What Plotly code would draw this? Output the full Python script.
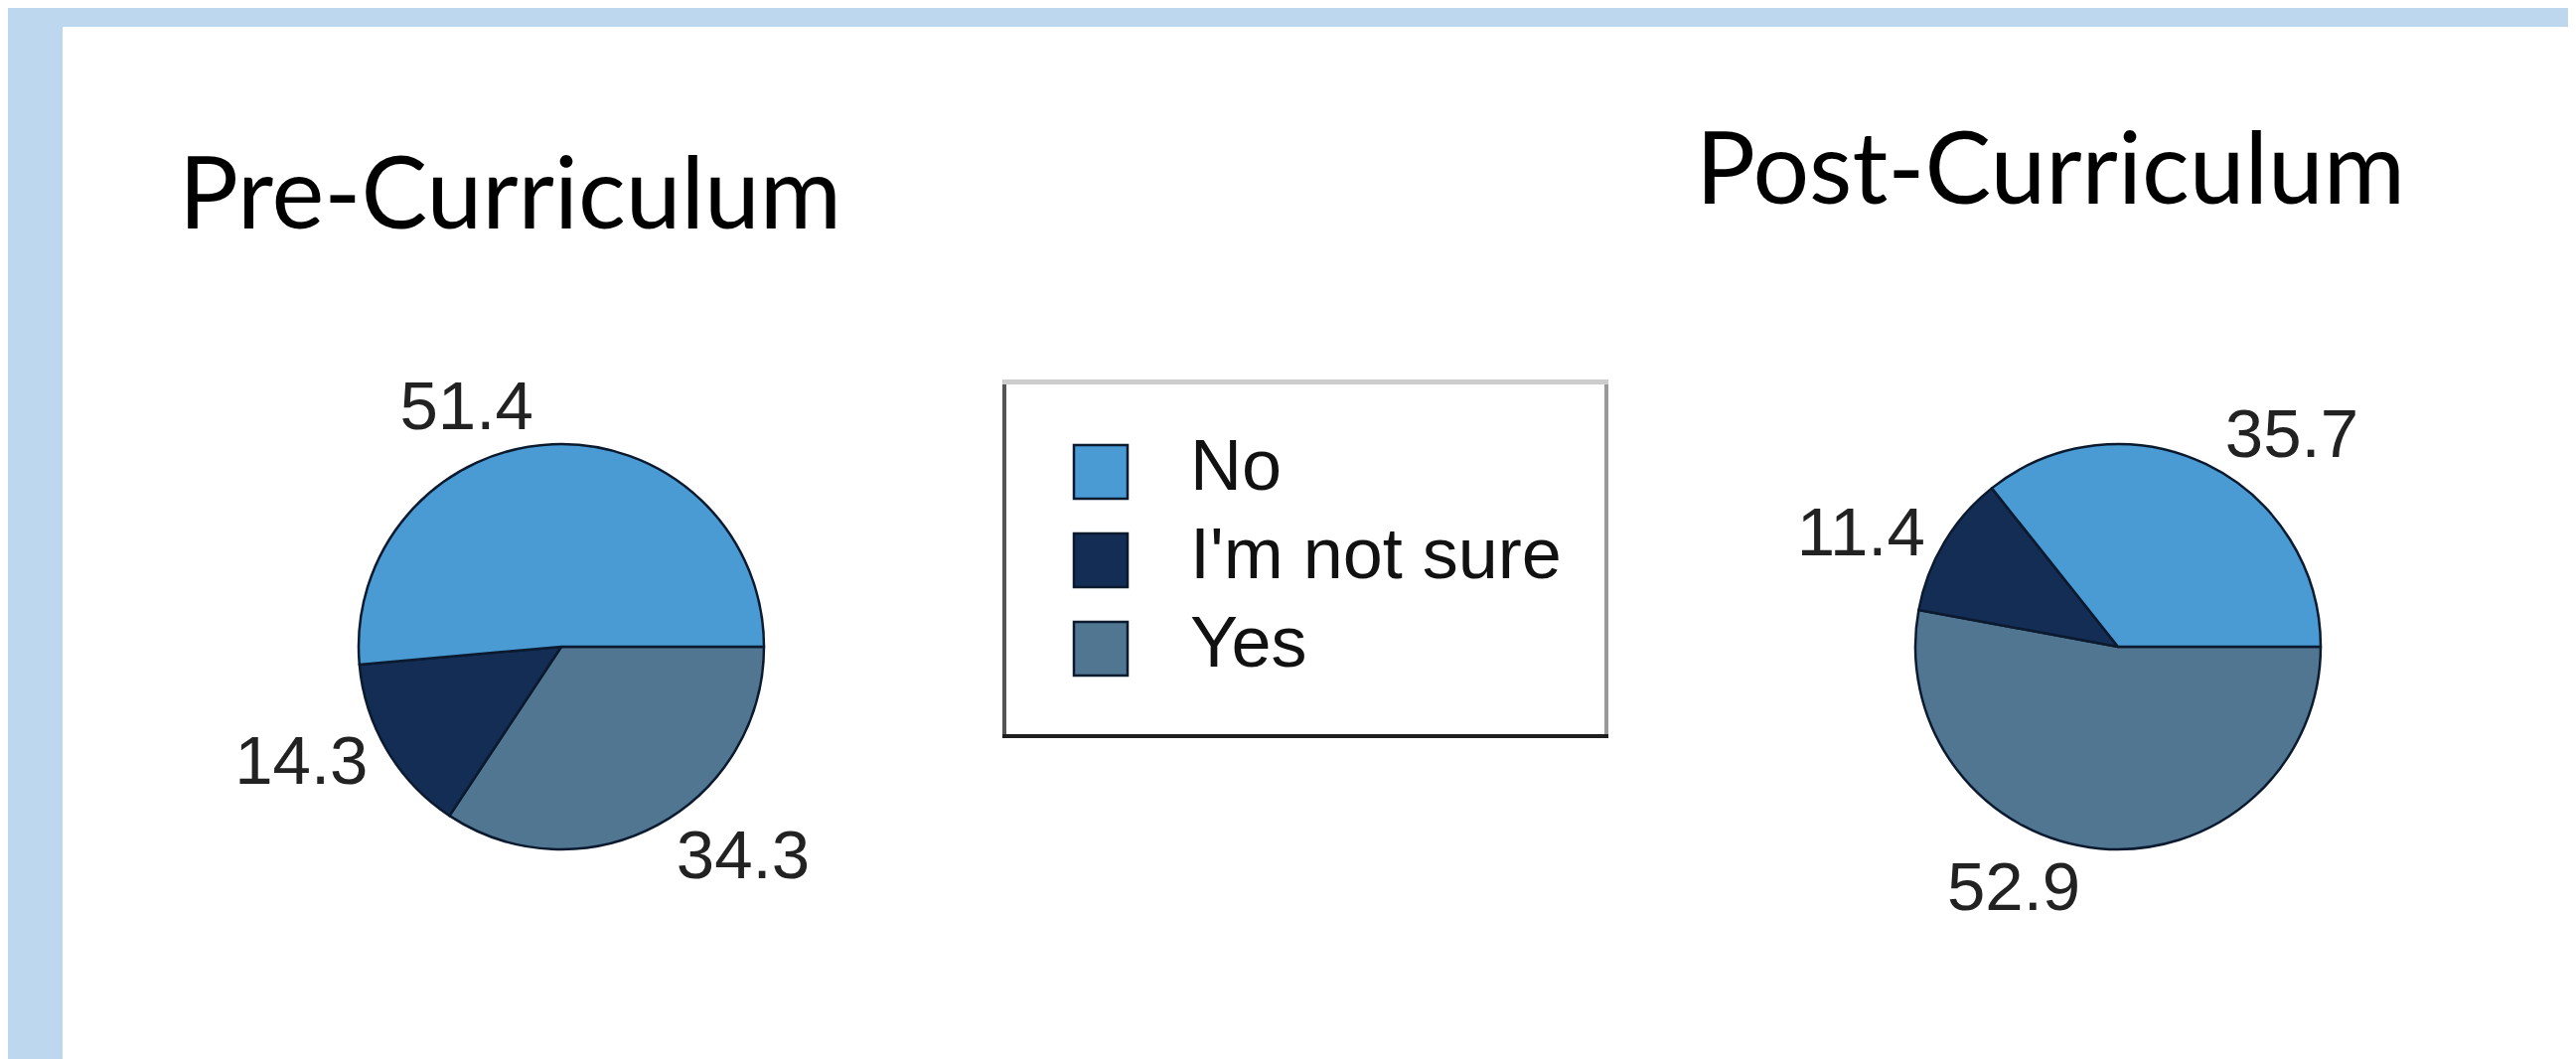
import plotly.graph_objects as go

# ---------------- data ----------------
categories = ["No", "I'm not sure", "Yes"]
pre_values = [51.4, 14.3, 34.3]
post_values = [35.7, 11.4, 52.9]
titles = ["Pre-Curriculum", "Post-Curriculum"]
colors = ["#4A9BD4", "#142D55", "#507691"]

W, H = 2593, 1066


def px_x(v):
    return v / W


def px_y(v):
    return 1 - v / H


fig = go.Figure()

# pie geometry (pixel centres / radius)
pies = [
    (pre_values, 557, 643, 204),
    (post_values, 2124, 643, 204),
]
for vals, cx, cy, r in pies:
    fig.add_trace(go.Pie(
        labels=categories[::-1],
        values=vals[::-1],
        sort=False,
        direction="clockwise",
        rotation=90,
        marker=dict(colors=colors[::-1], line=dict(color="#0B1A2E", width=2.5)),
        textposition="outside",
        texttemplate="%{value:.1f}",
        textfont=dict(family="Liberation Sans, Arial, sans-serif", size=69, color="#222222"),
        domain=dict(x=[px_x(cx - r), px_x(cx + r)], y=[px_y(cy + r), px_y(cy - r)]),
        showlegend=False,
        hoverinfo="label+value",
    ))

# custom legend drawn as a small scatter subplot
fig.add_trace(go.Scatter(
    x=[0] * len(categories), y=categories, mode="markers",
    marker=dict(symbol="square", size=54, color=colors, line=dict(color="#0B1A2E", width=2.5)),
    xaxis="x", yaxis="y", showlegend=False, hoverinfo="skip",
))
fig.add_trace(go.Scatter(
    x=[1] * len(categories), y=categories, mode="text", text=categories,
    textposition="middle right",
    textfont=dict(family="Liberation Sans, Arial, sans-serif", size=72, color="#111111"),
    xaxis="x2", yaxis="y2", showlegend=False, hoverinfo="skip",
))

lx0, lx1, ly0, ly1 = 1005, 1607, 379, 731
mx = 95          # marker centre offset from box left
unit = 90.0      # px between marker centre and text start
x_left = -mx / unit
x_right = (lx1 - lx0 - mx) / unit
row = 89.0
top_off = 88.0
y_top = -top_off / row
y_bot = 2 + (ly1 - ly0 - top_off - 2 * row) / row

common_x = dict(range=[x_left, x_right], showgrid=False, zeroline=False,
                showticklabels=False, ticks="", fixedrange=True, showline=True)
common_y = dict(range=[y_bot, y_top], type="category", showgrid=False, zeroline=False,
                showticklabels=False, ticks="", fixedrange=True, showline=True)

fig.update_layout(
    width=W, height=H, autosize=False,
    margin=dict(l=0, r=0, t=0, b=0),
    paper_bgcolor="#BDD7EE",
    plot_bgcolor="white",
    xaxis=dict(domain=[px_x(lx0), px_x(lx1)], side="bottom", linecolor="#1E1E1E", linewidth=4, **common_x),
    yaxis=dict(domain=[px_y(ly1), px_y(ly0)], side="left", linecolor="#555555", linewidth=4, **common_y),
    xaxis2=dict(overlaying="x", side="top", linecolor="#CCCCCC", linewidth=5, **common_x),
    yaxis2=dict(overlaying="y", side="right", linecolor="#9A9A9A", linewidth=4, **common_y),
    shapes=[dict(type="rect", xref="paper", yref="paper",
                 x0=px_x(55), x1=1, y0=0, y1=px_y(19),
                 fillcolor="white", line=dict(width=0), layer="below")],
    annotations=[
        dict(text=titles[0], x=px_x(170), y=px_y(183), xref="paper", yref="paper",
             xanchor="left", yanchor="middle", showarrow=False,
             font=dict(family="Lato, sans-serif", size=100, color="#000000")),
        dict(text=titles[1], x=px_x(1697), y=px_y(158), xref="paper", yref="paper",
             xanchor="left", yanchor="middle", showarrow=False,
             font=dict(family="Lato, sans-serif", size=100, color="#000000")),
    ],
)

fig.write_html("out.html")
